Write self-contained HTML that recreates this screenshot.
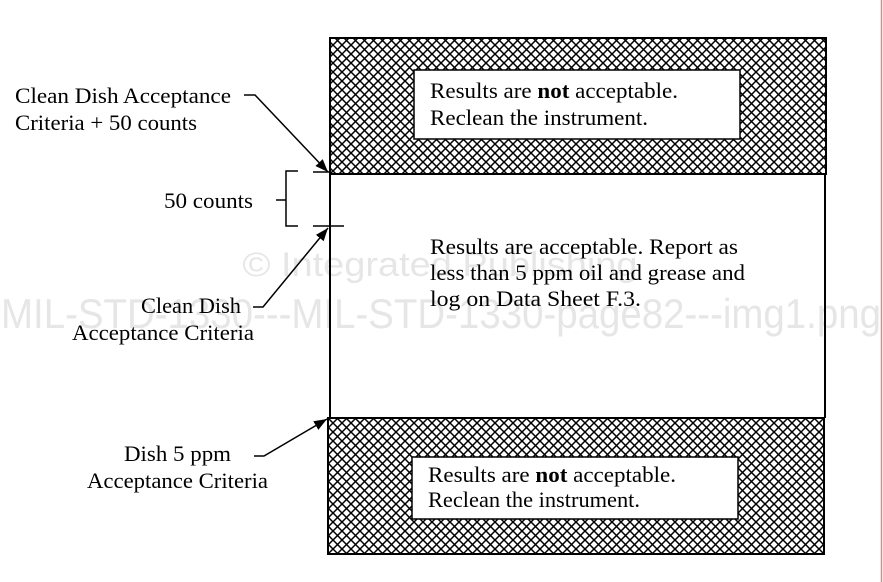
<!DOCTYPE html>
<html><head><style>
html,body{margin:0;padding:0;background:#fff;}
svg{display:block;}
text{font-family:"Liberation Serif",serif;fill:#000;}
.wm{font-family:"Liberation Sans",sans-serif;fill:#e6e6e6;}
</style></head><body>
<svg width="883" height="582" viewBox="0 0 883 582" xmlns="http://www.w3.org/2000/svg">
<defs>
<pattern id="hatch" patternUnits="userSpaceOnUse" width="9" height="9">
<rect width="9" height="9" fill="#fff"/>
<path d="M-1,1 L1,-1 M0,9 L9,0 M8,10 L10,8" stroke="#000" stroke-width="1.5"/>
<path d="M-1,8 L1,10 M0,0 L9,9 M8,-1 L10,1" stroke="#000" stroke-width="1.5"/>
</pattern>
<marker id="ar" markerWidth="14" markerHeight="14" refX="13" refY="6" orient="auto" markerUnits="userSpaceOnUse">
<path d="M0,1 L13,6 L0,11 z" fill="#000"/>
</marker>
</defs>
<line x1="881.5" y1="0" x2="881.5" y2="582" stroke="#f08080" stroke-width="1.5"/>
<text class="wm" x="440" y="276" font-size="34" text-anchor="middle" textLength="395" lengthAdjust="spacingAndGlyphs">© Integrated Publishing</text>
<text class="wm" x="441" y="328" font-size="42" text-anchor="middle" textLength="880" lengthAdjust="spacingAndGlyphs">MIL-STD-1330---MIL-STD-1330-page82---img1.png</text>
<rect x="330" y="38" width="496" height="136" fill="url(#hatch)" stroke="#000" stroke-width="2"/>
<rect x="414" y="70" width="326" height="69" fill="#fff" stroke="#000" stroke-width="1.5"/>
<text x="430" y="98" font-size="22" textLength="248" lengthAdjust="spacingAndGlyphs">Results are <tspan font-weight="bold">not</tspan> acceptable.</text>
<text x="430" y="125" font-size="22" textLength="218" lengthAdjust="spacingAndGlyphs">Reclean the instrument.</text>
<line x1="330" y1="174" x2="330" y2="418" stroke="#000" stroke-width="2"/>
<line x1="825" y1="174" x2="825" y2="418" stroke="#000" stroke-width="2"/>
<text x="430" y="254" font-size="22" textLength="308" lengthAdjust="spacingAndGlyphs">Results are acceptable.  Report as</text>
<text x="430" y="280" font-size="22" textLength="315" lengthAdjust="spacingAndGlyphs">less than 5 ppm oil and grease and</text>
<text x="430" y="306" font-size="22" textLength="211" lengthAdjust="spacingAndGlyphs">log on Data Sheet F.3.</text>
<rect x="328" y="418" width="496" height="136" fill="url(#hatch)" stroke="#000" stroke-width="2"/>
<rect x="412" y="457" width="326" height="62" fill="#fff" stroke="#000" stroke-width="1.5"/>
<text x="428" y="482" font-size="22" textLength="248" lengthAdjust="spacingAndGlyphs">Results are <tspan font-weight="bold">not</tspan> acceptable.</text>
<text x="428" y="507" font-size="22" textLength="212" lengthAdjust="spacingAndGlyphs">Reclean the instrument.</text>
<text x="15" y="103" font-size="22" textLength="216" lengthAdjust="spacingAndGlyphs">Clean Dish Acceptance</text>
<text x="15" y="130" font-size="22" textLength="182" lengthAdjust="spacingAndGlyphs">Criteria + 50 counts</text>
<path d="M244,95 L255,95 L328,172" fill="none" stroke="#000" stroke-width="1.5" marker-end="url(#ar)"/>
<text x="164" y="208" font-size="22" textLength="89" lengthAdjust="spacingAndGlyphs">50 counts</text>
<path d="M298,171 L286,171 L286,226 L298,226 M276,200 L286,200" fill="none" stroke="#000" stroke-width="1.5"/>
<line x1="313" y1="172" x2="330" y2="172" stroke="#000" stroke-width="1.5"/>
<line x1="313" y1="226" x2="344" y2="226" stroke="#000" stroke-width="1.5"/>
<text x="141" y="313" font-size="22" textLength="100" lengthAdjust="spacingAndGlyphs">Clean Dish</text>
<text x="72" y="340" font-size="22" textLength="182" lengthAdjust="spacingAndGlyphs">Acceptance Criteria</text>
<path d="M253,307 L263,307 L328,228" fill="none" stroke="#000" stroke-width="1.5" marker-end="url(#ar)"/>
<text x="124" y="461" font-size="22" textLength="107" lengthAdjust="spacingAndGlyphs">Dish 5 ppm</text>
<text x="87" y="488" font-size="22" textLength="181" lengthAdjust="spacingAndGlyphs">Acceptance Criteria</text>
<path d="M254,456 L264,456 L327,419" fill="none" stroke="#000" stroke-width="1.5" marker-end="url(#ar)"/>
</svg>
</body></html>
